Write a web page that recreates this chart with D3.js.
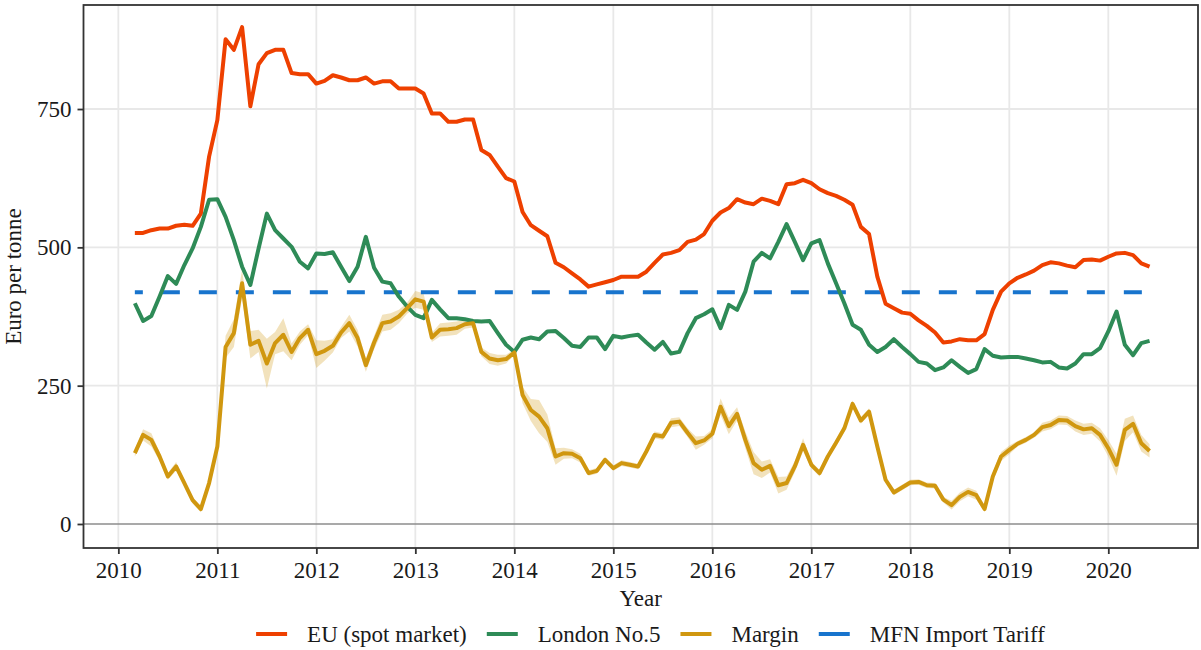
<!DOCTYPE html>
<html>
<head>
<meta charset="utf-8">
<script src="https://cdn.jsdelivr.net/npm/d3@7"></script>
<style>
  body { margin: 0; background: #ffffff; }
  text { font-family: "Liberation Serif", "DejaVu Serif", serif; fill: #1a1a1a; }
</style>
</head>
<body>
<svg id="chart" width="1201" height="650"></svg>
<script>
// Monthly data, first value is March 2010, last is June 2020
let firstYear = 2010;
let firstMonth = 2;

let euSpot = [526, 526, 531, 534, 534, 539, 541, 539, 561, 664,
    730, 876, 857, 898, 755, 831, 851, 857, 857, 815,
    813, 813, 796, 801, 811, 807, 802, 802, 807, 796,
    800, 800, 787, 787, 787, 778, 742, 742, 727, 727,
    731, 731, 676, 667, 646, 625, 619, 564, 540, 530,
    520, 472, 464, 453, 442, 429, 433, 437, 441, 447,
    447, 447, 456, 472, 487, 490, 495, 510, 514, 524,
    548, 563, 571, 587, 581, 578, 588, 584, 578, 614,
    616, 622, 616, 605, 598, 593, 586, 577, 537, 524,
    447, 398, 390, 382, 380, 368, 358, 346, 328, 330,
    334, 332, 332, 343, 387, 420, 435, 445, 451, 458,
    468, 473, 471, 467, 464, 477, 478, 476, 483, 489,
    490, 486, 471, 465];

let london = [399, 367, 376, 411, 448, 434, 468, 498, 537, 586,
    587, 555, 513, 465, 432, 498, 561, 531, 516, 501,
    474, 462, 489, 488, 491, 465, 439, 465, 519, 463,
    438, 435, 411, 393, 378, 372, 405, 388, 372, 372,
    370, 367, 366, 367, 345, 324, 311, 333, 337, 334,
    348, 349, 336, 322, 320, 337, 337, 316, 340, 337,
    340, 342, 328, 315, 329, 308, 311, 345, 372, 379,
    388, 354, 396, 387, 420, 474, 490, 480, 510, 542,
    510, 477, 507, 513, 471, 435, 399, 360, 351, 324,
    311, 320, 334, 320, 307, 293, 290, 278, 283, 296,
    284, 273, 280, 316, 304, 301, 302, 302, 299, 296,
    292, 293, 283, 281, 290, 307, 307, 318, 348, 384,
    324, 305, 327, 331];

let margin = [128, 161, 152, 122, 86, 104, 74, 43, 27, 74,
    140, 320, 345, 435, 324, 331, 290, 327, 342, 311,
    336, 351, 307, 313, 322, 346, 363, 336, 287, 328,
    363, 366, 375, 390, 406, 402, 337, 351, 352, 354,
    361, 363, 311, 299, 296, 298, 310, 233, 206, 194,
    173, 122, 128, 127, 119, 92, 96, 116, 101, 110,
    107, 104, 131, 161, 158, 183, 185, 165, 146, 151,
    163, 212, 177, 199, 152, 110, 98, 105, 70, 74,
    104, 143, 107, 92, 122, 147, 173, 217, 187, 203,
    140, 80, 57, 66, 75, 76, 70, 69, 44, 34,
    49, 58, 52, 27, 86, 122, 134, 145, 152, 161,
    175, 179, 188, 187, 177, 171, 173, 161, 137, 107,
    170, 181, 146, 132];

// half width of the uncertainty band around the margin
let marginBand = [6, 10, 12, 8, 6, 8, 6, 6, 6, 6,
    10, 20, 25, 25, 25, 20, 45, 20, 30, 15,
    12, 10, 25, 18, 12, 10, 15, 15, 12, 12,
    15, 15, 12, 10, 15, 15, 8, 12, 12, 12,
    8, 8, 8, 10, 10, 8, 5, 15, 20, 30,
    25, 15, 10, 8, 8, 5, 5, 5, 5, 5,
    5, 5, 6, 6, 6, 8, 8, 8, 12, 8,
    8, 15, 15, 12, 15, 20, 15, 12, 15, 12,
    10, 12, 6, 6, 6, 6, 6, 6, 6, 6,
    6, 5, 5, 5, 5, 5, 5, 5, 5, 8,
    8, 8, 8, 5, 8, 8, 8, 5, 5, 5,
    8, 8, 8, 8, 10, 10, 10, 12, 15, 20,
    20, 15, 15, 12];

let mfnTariff = 419;

let yearTicks = [2010, 2011, 2012, 2013, 2014, 2015, 2016, 2017, 2018, 2019, 2020];
let valueTicks = [0, 250, 500, 750];

let seriesNames = ["EU (spot market)", "London No.5", "Margin", "MFN Import Tariff"];
let seriesColors = ["#EE4000", "#2E8B57", "#D0970F", "#1874CD"];

// date as decimal year for every month
let dates = euSpot.map((v, i) => firstYear + (firstMonth + i) / 12);

let svg = d3.select("#chart");
let panel = { left: 83.5, right: 1198, top: 5, bottom: 548 };
let fontSize = 23;

let x = d3.scaleLinear().domain([2009.648, 2020.906]).range([panel.left, panel.right]);
let y = d3.scaleLinear().domain([-43.4, 938]).range([panel.bottom, panel.top]);

// grid
svg.append("g").selectAll("line").data(yearTicks).join("line")
    .attr("x1", d => x(d)).attr("x2", d => x(d))
    .attr("y1", panel.top).attr("y2", panel.bottom)
    .attr("stroke", "#E8E8E8").attr("stroke-width", 1.8);

svg.append("g").selectAll("line").data(valueTicks.filter(d => d > 0)).join("line")
    .attr("x1", panel.left).attr("x2", panel.right)
    .attr("y1", d => y(d)).attr("y2", d => y(d))
    .attr("stroke", "#E8E8E8").attr("stroke-width", 1.8);

// zero line
svg.append("line")
    .attr("x1", panel.left).attr("x2", panel.right)
    .attr("y1", y(0)).attr("y2", y(0))
    .attr("stroke", "#8C8C8C").attr("stroke-width", 1.4);

// ribbon around margin
let ribbon = d3.area()
    .x((d, i) => x(dates[i]))
    .y0((d, i) => y(d - marginBand[i]))
    .y1((d, i) => y(d + marginBand[i]));

svg.append("path")
    .attr("d", ribbon(margin))
    .attr("fill", seriesColors[2])
    .attr("fill-opacity", 0.28);

// tariff dashed line
svg.append("line")
    .attr("x1", x(dates[0])).attr("x2", x(dates[dates.length - 1]))
    .attr("y1", y(mfnTariff)).attr("y2", y(mfnTariff))
    .attr("stroke", seriesColors[3])
    .attr("stroke-width", 4)
    .attr("stroke-dasharray", "18,19")
    .attr("stroke-dashoffset", 10);

let line = d3.line()
    .x((d, i) => x(dates[i]))
    .y(d => y(d));

[euSpot, london, margin].forEach((values, index) => {
    svg.append("path")
        .attr("d", line(values))
        .attr("fill", "none")
        .attr("stroke", seriesColors[index])
        .attr("stroke-width", 4)
        .attr("stroke-linejoin", "round");
});

// panel border
svg.append("rect")
    .attr("x", panel.left).attr("y", panel.top)
    .attr("width", panel.right - panel.left).attr("height", panel.bottom - panel.top)
    .attr("fill", "none").attr("stroke", "#333333").attr("stroke-width", 1.8);

// axes
let xAxis = d3.axisBottom(x).tickValues(yearTicks).tickFormat(d3.format("d")).tickSize(6).tickPadding(6);
let gx = svg.append("g").attr("transform", `translate(0,${panel.bottom})`).call(xAxis);

let yAxis = d3.axisLeft(y).tickValues(valueTicks).tickSize(6).tickPadding(6);
let gy = svg.append("g").attr("transform", `translate(${panel.left},0)`).call(yAxis);

[gx, gy].forEach(g => {
    g.select(".domain").remove();
    g.selectAll(".tick line").attr("stroke", "#333333").attr("stroke-width", 1.8);
    g.selectAll(".tick text")
        .attr("font-family", "Liberation Serif")
        .attr("font-size", fontSize)
        .attr("fill", "#1a1a1a");
});
gx.selectAll(".tick text").attr("dy", null).attr("y", 30);

// titles
svg.append("text")
    .attr("x", (panel.left + panel.right) / 2)
    .attr("y", 606)
    .attr("text-anchor", "middle")
    .attr("font-size", fontSize)
    .text("Year");

svg.append("text")
    .attr("transform", `translate(21,${(panel.top + panel.bottom) / 2}) rotate(-90)`)
    .attr("text-anchor", "middle")
    .attr("font-size", fontSize)
    .text("Euro per tonne");

// legend, items measured and then centred
let legend = svg.append("g");
let cursor = 0;
seriesNames.forEach((name, index) => {
    let item = legend.append("g").attr("transform", `translate(${cursor},0)`);
    item.append("line")
        .attr("x1", 0).attr("x2", 31)
        .attr("y1", -8).attr("y2", -8)
        .attr("stroke", seriesColors[index])
        .attr("stroke-width", 4);
    let label = item.append("text")
        .attr("x", 51)
        .attr("y", 0)
        .attr("font-size", fontSize)
        .text(name);
    cursor += 51 + label.node().getComputedTextLength() + 20;
});
let legendWidth = cursor - 20;
legend.attr("transform", `translate(${650.5 - legendWidth / 2},642)`);
</script>
</body>
</html>
